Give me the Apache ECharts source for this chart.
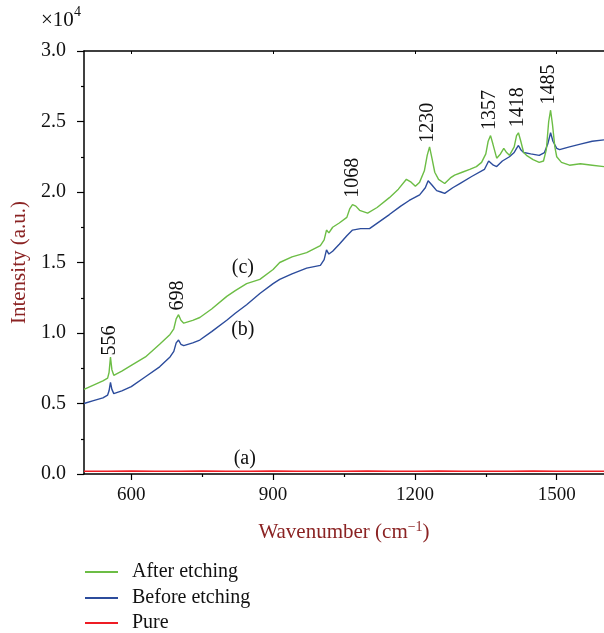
<!DOCTYPE html>
<html>
<head>
<meta charset="utf-8">
<script src="https://cdn.jsdelivr.net/npm/echarts@6/dist/echarts.min.js"></script>
<style>
  html, body { margin: 0; padding: 0; background: #fff; }
  #chart { width: 604px; height: 633px; }
</style>
</head>
<body>
<div id="chart"></div>
<script>
// wavenumber (cm-1) and intensity (x10^4)
var afterW = [500, 520, 540, 550, 553, 556, 559, 563, 580, 600, 630, 660, 682, 690, 695, 700, 705, 711, 730, 745,
  770, 802, 820, 844, 872, 900, 914, 940, 971, 1000, 1008, 1013, 1018, 1026, 1040, 1056, 1062, 1068, 1075, 1083,
  1100, 1120, 1146, 1165, 1182, 1192, 1201, 1210, 1220, 1226, 1231, 1236, 1242, 1250, 1263, 1275, 1284, 1300, 1316, 1330,
  1341, 1350, 1355, 1360, 1365, 1373, 1381, 1388, 1394, 1400, 1410, 1415, 1419, 1424, 1430, 1436, 1450, 1463, 1472, 1478,
  1483, 1487, 1491, 1496, 1500, 1510, 1527, 1550, 1575, 1600];
var afterV = [0.60, 0.63, 0.66, 0.68, 0.72, 0.83, 0.74, 0.70, 0.73, 0.77, 0.83, 0.92, 0.99, 1.03, 1.10, 1.13, 1.09, 1.07, 1.09, 1.11,
  1.17, 1.26, 1.30, 1.35, 1.38, 1.45, 1.50, 1.54, 1.57, 1.62, 1.66, 1.73, 1.71, 1.75, 1.78, 1.82, 1.88, 1.91, 1.90, 1.87,
  1.85, 1.89, 1.96, 2.02, 2.09, 2.07, 2.04, 2.07, 2.15, 2.26, 2.32, 2.24, 2.14, 2.09, 2.06, 2.10, 2.12, 2.14, 2.16, 2.18,
  2.21, 2.27, 2.36, 2.40, 2.34, 2.24, 2.27, 2.31, 2.28, 2.26, 2.32, 2.40, 2.42, 2.36, 2.28, 2.26, 2.23, 2.21, 2.22, 2.30,
  2.50, 2.58, 2.48, 2.32, 2.25, 2.21, 2.19, 2.20, 2.19, 2.18];

var beforeW = [500, 520, 540, 550, 553, 556, 559, 563, 580, 600, 630, 660, 682, 690, 695, 700, 705, 711, 730, 745,
  770, 802, 820, 844, 872, 900, 914, 940, 971, 1000, 1008, 1013, 1018, 1026, 1040, 1056, 1068, 1085, 1104, 1125,
  1146, 1170, 1188, 1210, 1222, 1228, 1231, 1236, 1246, 1255, 1263, 1280, 1295, 1320, 1347, 1356, 1360, 1366, 1373, 1385,
  1400, 1410, 1415, 1419, 1424, 1430, 1445, 1463, 1474, 1481, 1487, 1492, 1500, 1506, 1527, 1550, 1575, 1600];
var beforeV = [0.50, 0.52, 0.54, 0.56, 0.59, 0.65, 0.60, 0.57, 0.59, 0.62, 0.69, 0.76, 0.83, 0.87, 0.93, 0.95, 0.92, 0.91, 0.93, 0.95,
  1.01, 1.09, 1.14, 1.20, 1.28, 1.35, 1.38, 1.42, 1.46, 1.48, 1.52, 1.59, 1.56, 1.58, 1.63, 1.69, 1.73, 1.74, 1.74, 1.79,
  1.84, 1.90, 1.94, 1.98, 2.03, 2.08, 2.09, 2.05, 2.01, 2.00, 1.99, 2.03, 2.06, 2.11, 2.16, 2.22, 2.23, 2.19, 2.18, 2.22,
  2.25, 2.28, 2.31, 2.33, 2.30, 2.28, 2.27, 2.26, 2.28, 2.34, 2.42, 2.36, 2.31, 2.30, 2.32, 2.34, 2.36, 2.37];

var pureW = [500, 550, 600, 650, 700, 750, 800, 850, 900, 950, 1000, 1050, 1100, 1150, 1200, 1250, 1300, 1350, 1400, 1450, 1500, 1550, 1600];
var pureV = [0.02, 0.02, 0.021, 0.02, 0.019, 0.021, 0.02, 0.02, 0.021, 0.02, 0.019, 0.02, 0.021, 0.02, 0.02, 0.021, 0.02, 0.019, 0.02, 0.021, 0.02, 0.02, 0.02];

// peak labels: text, wavenumber, intensity at the foot of the rotated text
var peakText = ["556", "698", "1068", "1230", "1357", "1418", "1485"];
var peakW = [555, 699, 1068, 1227, 1358, 1417, 1484];
var peakV = [0.84, 1.16, 1.96, 2.35, 2.44, 2.46, 2.62];

// curve tags
var tagText = ["(a)", "(b)", "(c)"];
var tagW = [840, 836, 836];
var tagV = [0.11, 1.02, 1.46];

var xMajor = [600, 900, 1200, 1500];
var xMinor = [750, 1050, 1350];

var legendNames = ["After etching", "Before etching", "Pure"];
var legendTops = [562, 588, 613];

function pairs(xs, ys) {
  var out = [];
  for (var i = 0; i < xs.length; i++) out.push([xs[i], ys[i]]);
  return out;
}

var serif = "Liberation Serif";
var darkRed = "#8b2323";

var legends = legendNames.map(function (name, k) {
  return {
    orient: "vertical",
    left: 85,
    top: legendTops[k],
    padding: 0,
    icon: "rect",
    itemWidth: 33,
    itemHeight: 2,
    textStyle: { fontFamily: serif, fontSize: 20, color: "#111", lineHeight: 20, padding: [0, 0, 0, 9] },
    data: [name]
  };
});

var chart = echarts.init(document.getElementById("chart"));

var option = {
  animation: false,
  grid: { left: 84, right: -2, top: 51, bottom: 159 },
  legend: legends,
  xAxis: [{
    type: "value",
    min: 500,
    max: 1600,
    name: "{n|Wavenumber (cm}{s|\u22121}{n|)}",
    nameLocation: "middle",
    nameGap: 46,
    nameTextStyle: {
      rich: {
        n: { fontFamily: serif, fontSize: 21, color: darkRed },
        s: { fontFamily: serif, fontSize: 14, color: darkRed, padding: [0, 0, 10, 0] }
      }
    },
    axisLine: { show: true, onZero: false, lineStyle: { color: "#000", width: 1.5 } },
    axisTick: { show: true, length: 6, customValues: xMajor, lineStyle: { color: "#000", width: 1.2 } },
    axisLabel: {
      margin: 12,
      customValues: xMajor,
      fontFamily: serif,
      fontSize: 19,
      color: "#111",
      formatter: function (v) { return String(v); }
    },
    splitLine: { show: false }
  }, {
    type: "value",
    position: "top",
    min: 500,
    max: 1600,
    axisLine: { show: true, onZero: false, lineStyle: { color: "#000", width: 1.5 } },
    axisTick: { show: true, inside: true, length: 3, customValues: xMajor, lineStyle: { color: "#000" } },
    axisLabel: { show: false },
    splitLine: { show: false }
  }, {
    type: "value",
    position: "bottom",
    min: 500,
    max: 1600,
    axisLine: { show: false },
    axisTick: { show: true, length: 3, customValues: xMinor, lineStyle: { color: "#000", width: 1.2 } },
    axisLabel: { show: false },
    splitLine: { show: false }
  }],
  yAxis: {
    type: "value",
    min: 0,
    max: 3,
    interval: 0.5,
    name: "Intensity (a.u.)",
    nameLocation: "middle",
    nameGap: 54,
    nameTextStyle: { fontFamily: serif, fontSize: 21, color: darkRed },
    axisLine: { show: true, onZero: false, lineStyle: { color: "#000", width: 1.5 } },
    axisTick: { show: true, length: 7, lineStyle: { color: "#000", width: 1.2 } },
    minorTick: { show: true, splitNumber: 2, length: 3, lineStyle: { color: "#000", width: 1.2 } },
    axisLabel: {
      margin: 18,
      fontFamily: serif,
      fontSize: 20,
      color: "#111",
      formatter: function (v) { return v.toFixed(1); }
    },
    splitLine: { show: false }
  },
  series: [{
    name: "After etching",
    type: "line",
    data: pairs(afterW, afterV),
    showSymbol: false,
    lineStyle: { color: "#6cbd45", width: 1.4 },
    itemStyle: { color: "#6cbd45" },
    z: 3
  }, {
    name: "Before etching",
    type: "line",
    data: pairs(beforeW, beforeV),
    showSymbol: false,
    lineStyle: { color: "#2c4c9c", width: 1.4 },
    itemStyle: { color: "#2c4c9c" },
    z: 2
  }, {
    name: "Pure",
    type: "line",
    data: pairs(pureW, pureV),
    showSymbol: false,
    lineStyle: { color: "#ee1c24", width: 1.6 },
    itemStyle: { color: "#ee1c24" },
    z: 4
  }]
};

chart.setOption(option);

// texts placed through the axes
var texts = [];
for (var i = 0; i < peakText.length; i++) {
  var p = chart.convertToPixel({ xAxisIndex: 0, yAxisIndex: 0 }, [peakW[i], peakV[i]]);
  texts.push({
    type: "text",
    x: p[0],
    y: p[1],
    rotation: Math.PI / 2,
    style: {
      text: peakText[i],
      fontFamily: serif,
      fontSize: 20,
      fill: "#111",
      align: "left",
      verticalAlign: "middle"
    },
    z: 10
  });
}
for (var j = 0; j < tagText.length; j++) {
  var q = chart.convertToPixel({ xAxisIndex: 0, yAxisIndex: 0 }, [tagW[j], tagV[j]]);
  texts.push({
    type: "text",
    x: q[0],
    y: q[1],
    style: {
      text: tagText[j],
      fontFamily: serif,
      fontSize: 20,
      fill: "#111",
      align: "center",
      verticalAlign: "middle"
    },
    z: 10
  });
}
texts.push({
  type: "text",
  x: 41,
  y: 20,
  style: { text: "\u00d710", fontFamily: serif, fontSize: 21, fill: "#111", align: "left", verticalAlign: "middle" }
});
texts.push({
  type: "text",
  x: 74,
  y: 12,
  style: { text: "4", fontFamily: serif, fontSize: 14, fill: "#111", align: "left", verticalAlign: "middle" }
});

chart.setOption({ graphic: texts });
</script>
</body>
</html>
